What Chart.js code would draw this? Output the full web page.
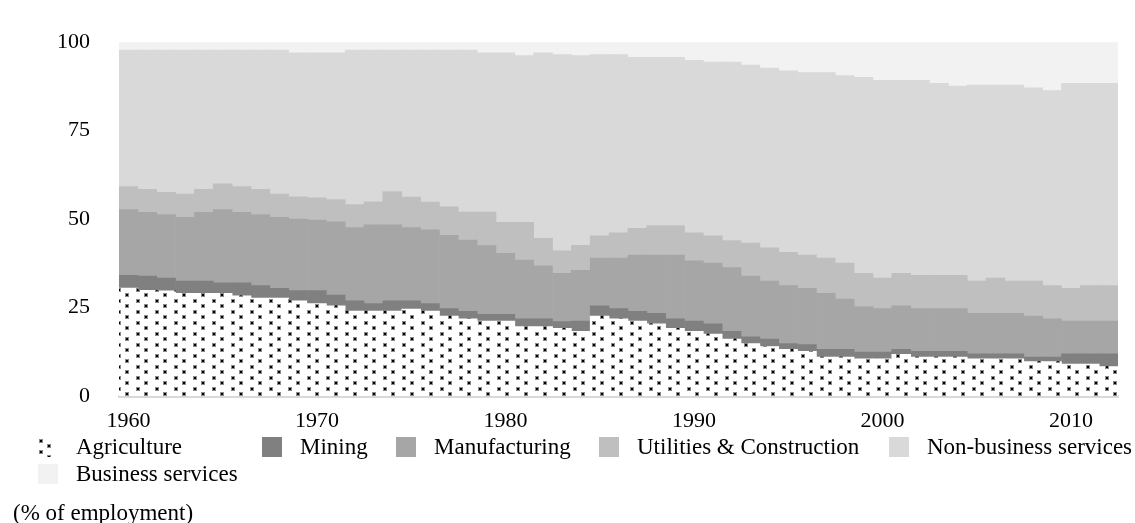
<!DOCTYPE html>
<html>
<head>
<meta charset="utf-8">
<script src="https://cdn.jsdelivr.net/npm/chart.js@4.4.1/dist/chart.umd.min.js"></script>
<style>
  body { margin: 0; background: #fff; font-family: 'Liberation Serif', 'Times New Roman', serif; }
  #wrap { position: relative; width: 1135px; height: 523px; }
  #chart { position: absolute; left: 0; top: 0; }
  .item { position: absolute; display: flex; align-items: center; height: 26px; line-height: 26px; font-size: 23px; color: #000; white-space: nowrap; }
  .box { width: 20px; height: 20px; margin-right: 18px; flex: none; }
  #unit { position: absolute; left: 13px; top: 500px; font-size: 23px; line-height: 26px; color: #000; }
</style>
</head>
<body>
<div id="wrap">
  <canvas id="chart" width="1135" height="523"></canvas>
  <div id="legend"></div>
  <div id="unit">(% of employment)</div>
</div>
<script>
// data, share of employment (%)
const years = [];
for (let y = 1960; y <= 2012; y++) years.push(y);

const agriculture = [30.5, 29.9, 29.7, 29.0, 29.0, 29.0, 28.3, 27.7, 27.7, 26.9,
  26.1, 25.5, 24.0, 24.0, 24.0, 24.6, 24.0, 22.6, 21.8, 21.2,
  21.2, 19.6, 19.6, 19.1, 18.3, 22.6, 21.8, 21.2, 20.4, 19.1,
  18.3, 17.5, 16.1, 14.8, 14.0, 13.2, 12.6, 11.0, 11.0, 10.5,
  10.5, 11.8, 11.0, 11.0, 11.0, 10.5, 10.5, 10.5, 9.7, 9.7,
  9.0, 9.0, 8.3];
const mining = [3.6, 4.0, 3.6, 3.5, 3.5, 3.0, 3.7, 3.5, 2.7, 2.9,
  3.7, 3.0, 2.9, 2.1, 2.9, 2.3, 2.1, 2.1, 2.1, 1.9,
  1.9, 2.2, 2.2, 1.9, 2.9, 2.9, 2.9, 2.7, 3.0, 2.7,
  2.9, 2.9, 2.2, 1.9, 2.1, 1.6, 1.9, 2.2, 2.2, 1.9,
  1.9, 1.4, 1.6, 1.6, 1.6, 1.4, 1.4, 1.4, 1.3, 1.3,
  2.9, 2.9, 3.6];
const manufacturing = [18.6, 18.0, 18.0, 18.0, 19.4, 20.7, 19.9, 20.1, 20.1, 20.2,
  19.9, 20.7, 20.7, 22.3, 21.5, 20.7, 20.9, 20.7, 20.2, 19.4,
  17.2, 16.6, 15.0, 13.7, 14.3, 13.5, 14.3, 15.9, 16.4, 18.0,
  17.0, 17.2, 18.0, 17.2, 16.4, 16.4, 15.9, 15.8, 14.2, 12.9,
  12.3, 12.3, 12.1, 12.1, 12.1, 11.5, 11.5, 11.5, 11.6, 10.8,
  9.3, 9.3, 9.3];
const utilities = [6.5, 6.5, 6.3, 6.6, 6.5, 7.3, 7.3, 7.1, 6.6, 6.3,
  6.3, 6.3, 6.5, 6.5, 9.4, 8.6, 7.8, 8.1, 7.9, 9.5,
  8.8, 10.7, 7.8, 6.3, 7.1, 6.3, 7.1, 7.6, 8.4, 8.4,
  7.9, 7.7, 7.6, 9.3, 9.4, 9.4, 9.4, 10.0, 10.2, 9.4,
  8.6, 9.2, 9.4, 9.4, 9.4, 9.1, 9.9, 9.1, 9.9, 9.4,
  9.2, 10.0, 10.0];
const nonBusiness = [38.6, 39.4, 40.2, 40.7, 39.4, 37.8, 38.6, 39.4, 40.7, 40.7,
  41.0, 41.5, 43.7, 42.9, 40.0, 41.6, 43.0, 44.3, 45.8, 45.0,
  47.9, 47.1, 52.4, 55.5, 53.6, 51.2, 50.4, 48.3, 47.5, 47.5,
  48.8, 49.1, 50.5, 50.3, 50.8, 51.3, 51.6, 52.4, 53.0, 55.4,
  55.9, 54.5, 55.1, 54.3, 53.5, 55.4, 54.6, 55.4, 54.6, 55.1,
  58.0, 57.2, 57.2];
const business = [2.2, 2.2, 2.2, 2.2, 2.2, 2.2, 2.2, 2.2, 2.2, 3.0,
  3.0, 3.0, 2.2, 2.2, 2.2, 2.2, 2.2, 2.2, 2.2, 3.0,
  3.0, 3.8, 3.0, 3.5, 3.8, 3.5, 3.5, 4.3, 4.3, 4.3,
  5.1, 5.6, 5.6, 6.5, 7.3, 8.1, 8.6, 8.6, 9.4, 9.9,
  10.8, 10.8, 10.8, 11.6, 12.4, 12.1, 12.1, 12.1, 12.9, 13.7,
  11.6, 11.6, 11.6];

const seriesNames = ['Agriculture', 'Mining', 'Manufacturing', 'Utilities & Construction', 'Non-business services', 'Business services'];
const seriesData = [agriculture, mining, manufacturing, utilities, nonBusiness, business];
const yTicks = [0, 25, 50, 75, 100];

// dotted fill for agriculture
function dotTile() {
  const c = document.createElement('canvas');
  c.width = 19; c.height = 11;
  const g = c.getContext('2d');
  g.fillStyle = '#fff';
  g.fillRect(0, 0, 19, 11);
  g.fillStyle = '#8a8a8a';
  g.fillRect(3, 2, 4, 4);
  g.fillRect(11, 7, 4, 4);
  g.fillStyle = '#000';
  g.fillRect(4, 3, 2, 2);
  g.fillRect(12, 8, 2, 2);
  return c;
}
const tile = dotTile();
const ctx = document.getElementById('chart').getContext('2d');
const dots = ctx.createPattern(tile, 'repeat');

const colors = [dots, '#808080', '#a6a6a6', '#bfbfbf', '#d9d9d9', '#f2f2f2'];

Chart.defaults.font.family = "'Liberation Serif', 'Times New Roman', serif";
Chart.defaults.color = '#000';

const chart = new Chart(ctx, {
  type: 'bar',
  data: {
    labels: years.map(String),
    datasets: seriesNames.map((name, i) => ({
      label: name,
      data: seriesData[i],
      backgroundColor: colors[i],
      borderWidth: 0,
      barPercentage: 1,
      categoryPercentage: 1
    }))
  },
  options: {
    responsive: false,
    animation: false,
    layout: { padding: { left: 0, right: 17, top: 24, bottom: 0 } },
    plugins: {
      legend: { display: false },
      tooltip: { enabled: false }
    },
    scales: {
      x: {
        stacked: true,
        grid: { display: false, drawTicks: false },
        border: { color: '#d9d9d9', width: 3 },
        ticks: {
          autoSkip: false,
          maxRotation: 0,
          padding: 12,
          font: { size: 22 },
          callback: function (v, i) { return years[i] % 10 === 0 ? String(years[i]) : ''; }
        },
        afterFit: function (s) { s.height = 127; }
      },
      y: {
        stacked: true,
        min: 0,
        max: 100,
        grid: { display: false, drawTicks: false },
        border: { display: false },
        afterBuildTicks: function (s) { s.ticks = yTicks.map(v => ({ value: v })); },
        ticks: { padding: 29, font: { size: 22 } },
        afterFit: function (s) { s.width = 119; }
      }
    }
  }
});

// legend laid out like the original (two rows, left aligned)
const legendPos = [[38, 434], [262, 434], [396, 434], [599, 434], [889, 434], [38, 461]];
const legend = document.getElementById('legend');
chart.data.datasets.forEach((ds, i) => {
  const item = document.createElement('div');
  item.className = 'item';
  item.style.left = legendPos[i][0] + 'px';
  item.style.top = legendPos[i][1] + 'px';
  const box = document.createElement('span');
  box.className = 'box';
  if (i === 0) {
    box.style.backgroundImage = 'url(' + tile.toDataURL() + ')';
    box.style.backgroundPosition = '-2px 0';
    box.style.width = '16px';
    box.style.marginRight = '22px';
  } else {
    box.style.background = ds.backgroundColor;
  }
  const txt = document.createElement('span');
  txt.textContent = ds.label;
  item.appendChild(box);
  item.appendChild(txt);
  legend.appendChild(item);
});
</script>
</body>
</html>
